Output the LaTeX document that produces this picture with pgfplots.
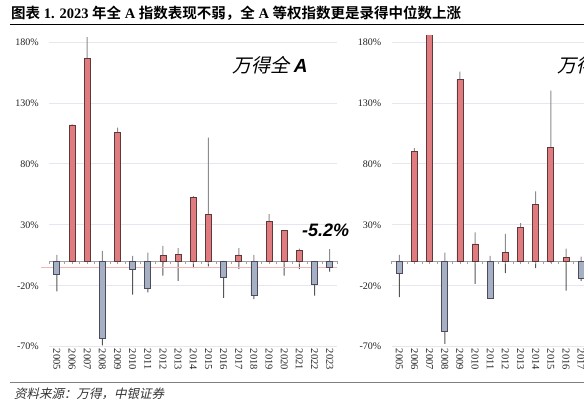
\documentclass[border=0pt]{standalone}
\usepackage{pgfplots}
\pgfplotsset{compat=1.18}
\usepackage{fontspec}
\setmainfont{Liberation Serif}
\newfontfamily\cjk{Noto Sans CJK SC}
\newfontfamily\cjkb{Noto Sans CJK SC Bold}
\newfontfamily\cjkit{Noto Sans CJK SC}[FakeSlant=0.22]
\newfontfamily\sansbi{Liberation Sans Bold Italic}
\definecolor{barred}{HTML}{E07C80}
\definecolor{barredd}{HTML}{5C3A3A}
\definecolor{barblue}{HTML}{A6B0C4}
\definecolor{barblued}{HTML}{4C4C5C}
\definecolor{gridc}{HTML}{E6E6EE}
\definecolor{tickc}{HTML}{222222}
\definecolor{whihi}{HTML}{8C8C8C}
\definecolor{whilo}{HTML}{555555}
\definecolor{pinkl}{HTML}{F5B5B5}
\definecolor{zeroc}{HTML}{A0A0A0}
\pgfplotsset{
  panel/.style={
    scale only axis, width=288pt, height=310.8pt, anchor=south west,
    xmin=-0.5, xmax=18.5, ymin=-70, ymax=185,
    axis line style={draw=none}, major tick length=0pt,
    clip mode=individual,
    ytick={-70,-20,30,80,130,180},
    yticklabels={-70\%,-20\%,30\%,80\%,130\%,180\%},
    ymajorgrids, grid style={draw=gridc, line width=0.8pt},
    xtick={0,...,18},
    xticklabels={2005,2006,2007,2008,2009,2010,2011,2012,2013,2014,2015,2016,2017,2018,2019,2020,2021,2022,2023},
    xticklabel style={rotate=-90, anchor=west, font=\fontsize{10.5}{10.5}\selectfont, text=tickc, inner sep=2pt},
    yticklabel style={font=\fontsize{10}{10}\selectfont, text=tickc, xshift=-7pt},
    /pgf/number format/assume math mode=true,
  },
  whisk/.style={ybar, bar width=1pt, bar shift=0pt, draw=none, fill=#1, mark=none},
  redbar/.style={ybar, bar width=6pt, bar shift=0pt, fill=barred, draw=barredd, line width=0.8pt, mark=none},
  bluebar/.style={ybar, bar width=6pt, bar shift=0pt, fill=barblue, draw=barblued, line width=0.8pt, mark=none},
}
\begin{document}
\begin{tikzpicture}
\useasboundingbox (0,0) rectangle (584pt,399pt);
\clip (0,0) rectangle (584pt,399pt);
% header
\node[anchor=west, inner sep=0pt, font=\fontsize{14.5}{14.5}\selectfont] at (11pt,386pt)
  {{\cjkb 图表} \textbf{1. 2023} {\cjkb 年全} \textbf{A} {\cjkb 指数表现不弱，全} \textbf{A} {\cjkb 等权指数更是录得中位数上涨}};
\draw[black, line width=1.3pt] (10pt,374.3pt) -- (584pt,374.3pt);
% footer
\draw[gray, line width=1.1pt] (10pt,16.7pt) -- (584pt,16.7pt);
\node[anchor=west, inner sep=0pt, text=black!80, font=\fontsize{12.5}{12.5}\selectfont] at (14pt,5.5pt) {\cjkit 资料来源：万得，中银证券};

% ---------- left panel: Wind All A ----------
\begin{axis}[panel, at={(49.3pt,52.3pt)}]
\addplot[whisk=whihi] coordinates {(0,5.3)(1,112.5)(2,184)(3,8.6)(4,109.7)(5,4.5)(6,7.2)(7,12.7)(8,10.8)(9,53.5)(10,101.5)(11,0.5)(12,10.8)(13,5.3)(14,38.7)(15,25.6)(16,10.5)(17,0.5)(18,10)};
\addplot[whisk=whilo] coordinates {(0,-24.7)(1,-0.3)(2,-0.3)(3,-69)(4,-0.3)(5,-27.2)(6,-25.5)(7,-11.6)(8,-16)(9,-5.6)(10,-4.2)(11,-30)(12,-6.4)(13,-31)(14,-0.3)(15,-11.6)(16,-6.4)(17,-28)(18,-8.4)};
\draw[pinkl, line width=1pt] (axis cs:-1.05,-5.2) -- (axis cs:18.5,-5.2);
\draw[zeroc, line width=0.8pt] (axis cs:-0.5,0) -- (axis cs:18.5,0);
\pgfplotsinvokeforeach{0,...,38}{\draw[zeroc, line width=0.6pt] (axis cs:{#1*0.5-0.5},0) -- ([yshift=-3pt]axis cs:{#1*0.5-0.5},0);}
\addplot[redbar] coordinates {(1,111.9)(2,166.2)(4,105.5)(7,4.7)(8,5.4)(9,52.4)(10,38.5)(12,5.3)(14,33.0)(15,25.6)(16,9.2)};
\addplot[bluebar] coordinates {(0,-11)(3,-62.9)(5,-6.9)(6,-22.4)(11,-12.9)(13,-28.3)(17,-18.7)(18,-5.2)};
\end{axis}
\node[anchor=west, inner sep=0pt, font=\fontsize{19}{19}\selectfont] at (232pt,334pt) {{\cjkit 万得全} {\sansbi A}};
\node[anchor=west, inner sep=0pt, font=\fontsize{18}{18}\selectfont] at (302pt,169pt) {\sansbi -5.2\%};

% ---------- right panel: equal weight ----------
\begin{axis}[panel, at={(391.7pt,52.3pt)}]
\addplot[whisk=whihi] coordinates {(0,5.3)(1,93)(2,200)(3,7.2)(4,155.6)(5,23.9)(6,4.5)(7,22.5)(8,31.3)(9,57.5)(10,140)(11,10.5)(12,4)};
\addplot[whisk=whilo] coordinates {(0,-29.4)(1,-0.3)(2,-0.3)(3,-67.6)(4,-0.3)(5,-18.4)(6,-30.5)(7,-9.7)(8,-0.3)(9,-5.6)(10,-1)(11,-24)(12,-16)};
\draw[zeroc, line width=0.8pt] (axis cs:-0.5,0) -- (axis cs:18.5,0);
\pgfplotsinvokeforeach{0,...,38}{\draw[zeroc, line width=0.6pt] (axis cs:{#1*0.5-0.5},0) -- ([yshift=-3pt]axis cs:{#1*0.5-0.5},0);}
\addplot[redbar] coordinates {(1,90)(2,200)(4,149.3)(5,14.3)(7,7.5)(8,27.7)(9,46.9)(10,93.3)(11,3.1)};
\addplot[bluebar] coordinates {(0,-10.2)(3,-57.2)(6,-30.5)(12,-13.8)};
\end{axis}
\node[anchor=west, inner sep=0pt, font=\fontsize{19}{19}\selectfont] at (557pt,334pt) {{\cjkit 万得全} {\sansbi A} {\cjkit 等权}};
\end{tikzpicture}
\end{document}
